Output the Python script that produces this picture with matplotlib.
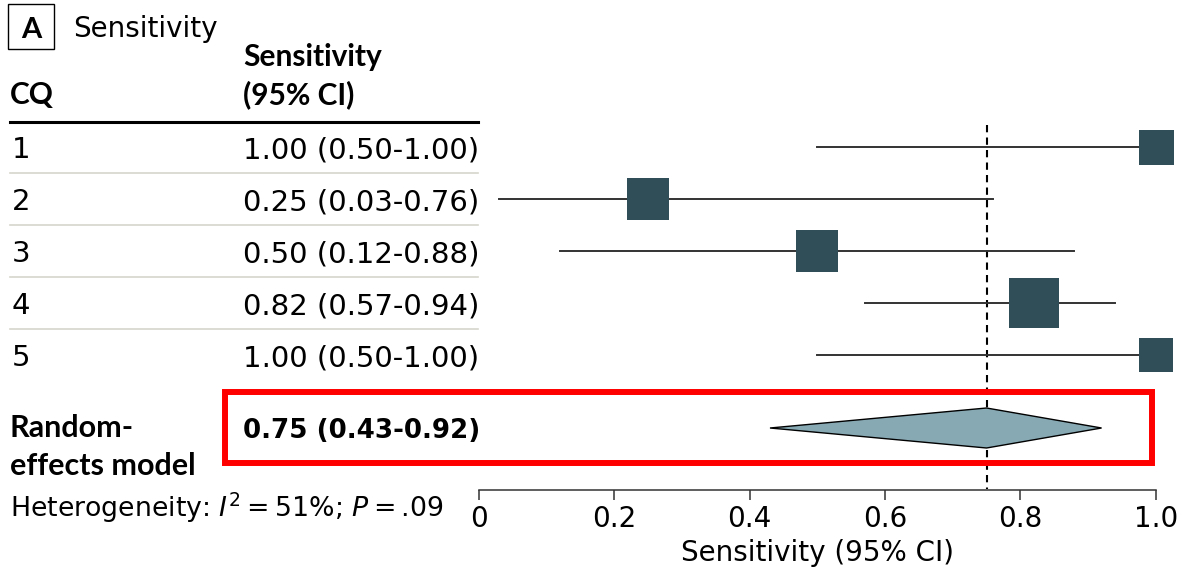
import matplotlib
matplotlib.use("Agg")
import matplotlib.pyplot as plt
import matplotlib.transforms as mtransforms
from matplotlib.patches import Polygon, Rectangle

# data
cq = ["1", "2", "3", "4", "5"]
sens = [1.00, 0.25, 0.50, 0.82, 1.00]
ci_lo = [0.50, 0.03, 0.12, 0.57, 0.50]
ci_hi = [1.00, 0.76, 0.88, 0.94, 1.00]
box_px = [35, 42, 42, 50, 34]   # square side (px), ~ study weight

pooled = 0.75
pooled_lo = 0.43
pooled_hi = 0.92
het_text = "Heterogeneity: $I^2$\u2009=\u200951%; $P$\u2009=\u2009.09"

xticks = [0, 0.2, 0.4, 0.6, 0.8, 1.0]
xtick_labels = ["0", "0.2", "0.4", "0.6", "0.8", "1.0"]

plt.rcParams["font.family"] = ["DejaVu Sans"]
plt.rcParams["mathtext.fontset"] = "dejavusans"
BOLD = ["Lato", "DejaVu Sans"]

W, H = 1178, 577
fig = plt.figure(figsize=(W / 100, H / 100), dpi=100)

# forest axes: x 0..1 maps to px 479..1156, rows 52 px apart
ax = fig.add_axes([479 / W, (H - 490) / H, 676.7 / W, 490 / H])
row_px0, row_step = 147, 52
def py(p):
    return 1 + (p - row_px0) / row_step
ax.set_xlim(0, 1)
ax.set_ylim(py(490), py(0))

# pixel transform (x from left, y from top) for the table text
pix = mtransforms.Affine2D().scale(1 / W, -1 / H).translate(0, 1) + fig.transFigure
xpix_ydata = mtransforms.blended_transform_factory(pix, ax.transData)

rows = list(range(1, len(cq) + 1))
pooled_y = py(428)

# CI lines and squares
for y, s, lo, hi, b in zip(rows, sens, ci_lo, ci_hi, box_px):
    ax.plot([lo, hi], [y, y], color="#333333", lw=1.4, zorder=2, clip_on=False)
    ax.plot(s, y, marker="s", ms=b * 0.72, color="#2f4e57", mew=0,
            zorder=3, clip_on=False)

# reference line at pooled estimate
ax.plot([pooled, pooled], [py(125), py(489)], color="black", lw=1.5,
        ls=(0, (3.5, 2.5)), zorder=1, clip_on=False)

# pooled diamond
h = 20 / row_step
diamond = Polygon([(pooled_lo, pooled_y), (pooled, pooled_y - h),
                   (pooled_hi, pooled_y), (pooled, pooled_y + h)],
                  closed=True, facecolor="#87a9b4", edgecolor="black",
                  lw=1.0, zorder=3)
ax.add_patch(diamond)

# red highlight box
x0 = (225 - 479) / 676.7
x1 = (1152 - 479) / 676.7
ax.add_patch(Rectangle((x0, py(391.5)), x1 - x0, py(463) - py(391.5),
                       fill=False, edgecolor="#ff0000", lw=4.3,
                       clip_on=False, zorder=4))

# axis styling
for sp in ["top", "right", "left"]:
    ax.spines[sp].set_visible(False)
ax.spines["bottom"].set_bounds(0, 1)
ax.spines["bottom"].set_color("#333333")
ax.spines["bottom"].set_linewidth(1.1)
ax.set_yticks([])
ax.set_xticks(xticks)
ax.set_xticklabels(xtick_labels, fontsize=20)
ax.tick_params(axis="x", length=7, width=1.1, color="#333333", pad=4)
ax.set_xlabel("Sensitivity (95% CI)", fontsize=20, labelpad=4)
ax.patch.set_visible(False)

# panel label and title
fig.patches.append(Rectangle((8, 49), 46, -45, transform=pix, fill=False,
                             edgecolor="black", lw=1.0))
fig.text(31, 38, "A", transform=pix, ha="center", va="baseline",
         fontsize=21, fontweight="bold", family=BOLD)
fig.text(73, 37, "Sensitivity", transform=pix, va="baseline", fontsize=20)

# table header
fig.text(243, 66, "Sensitivity", transform=pix, va="baseline",
         fontsize=21.5, fontweight="bold", family=BOLD)
fig.text(243, 104, "(95% CI)", transform=pix, va="baseline",
         fontsize=21.5, fontweight="bold", family=BOLD)
fig.text(10, 104, "CQ", transform=pix, va="baseline",
         fontsize=21.5, fontweight="bold", family=BOLD)
fig.lines.append(plt.Line2D([10, 478], [121.5, 121.5], transform=pix,
                            color="black", lw=2.2))

# table rows
for y, c, s, lo, hi in zip(rows, cq, sens, ci_lo, ci_hi):
    ax.text(12, y + 11 / row_step, c, transform=xpix_ydata, va="baseline",
            fontsize=21)
    ax.text(243, y + 11 / row_step, f"{s:.2f} ({lo:.2f}-{hi:.2f})",
            transform=xpix_ydata, va="baseline", fontsize=21)
for y in rows[:-1]:
    ax.plot([10, 478], [y + 0.5, y + 0.5], transform=xpix_ydata,
            color="#d6d6cc", lw=1.2, clip_on=False)

# pooled row
ax.text(10, py(437), "Random-", transform=xpix_ydata, va="baseline",
        fontsize=22, fontweight="bold", family=BOLD)
ax.text(10, py(475), "effects model", transform=xpix_ydata, va="baseline",
        fontsize=22, fontweight="bold", family=BOLD)
ax.text(243, py(438), f"{pooled:.2f} ({pooled_lo:.2f}-{pooled_hi:.2f})",
        transform=xpix_ydata, va="baseline", fontsize=18.8, fontweight="bold")
fig.text(10, 517, het_text, transform=pix, va="baseline", fontsize=19.3)

fig.savefig("out.png", dpi=100)
